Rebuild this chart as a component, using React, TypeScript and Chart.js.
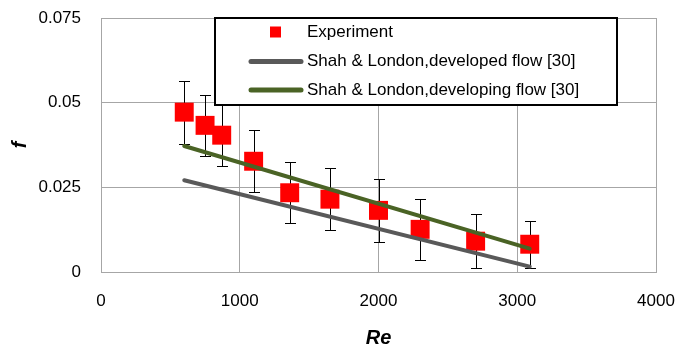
import React, { useEffect, useRef } from 'react';
import { Chart, registerables } from 'chart.js';

Chart.register(...registerables);

// Experimental data
const reExperiment = [600, 750, 870, 1100, 1360, 1650, 2000, 2300, 2700, 3090];
const fExperiment = [0.0472, 0.0433, 0.0404, 0.0327, 0.0234, 0.0215, 0.0182, 0.0126, 0.0091, 0.0082];
const fError = [0.0093, 0.009, 0.009, 0.0091, 0.009, 0.0092, 0.0092, 0.009, 0.008, 0.0069];

// Correlations
const reCorrelation = [600, 3090];
const fDeveloped = [0.0271, 0.0016];
const fDeveloping = [0.0372, 0.0069];

// Axis ticks
const xTicks = [0, 1000, 2000, 3000, 4000];
const yTicks = [0, 0.025, 0.05, 0.075];
const yTickLabels = ['0', '0.025', '0.05', '0.075'];

const legendLabels = [
  'Experiment',
  'Shah & London,developed flow [30]',
  'Shah & London,developing flow [30]',
];

const RED = '#ff0000';
const GRAY = '#595959';
const GREEN = '#4a6325';
const GRID = '#a6a6a6';
const FONT = "'Liberation Sans', Arial, sans-serif";

const errorBarPlugin = {
  id: 'errorBars',
  beforeDatasetsDraw(chart: any) {
    const { ctx, scales } = chart;
    const xs = scales.x;
    const ys = scales.y;
    ctx.save();
    ctx.strokeStyle = '#000000';
    ctx.lineWidth = 1;
    reExperiment.forEach((re, i) => {
      const x = Math.round(xs.getPixelForValue(re)) + 0.5;
      const yTop = Math.round(ys.getPixelForValue(fExperiment[i] + fError[i])) + 0.5;
      const yBot = Math.round(ys.getPixelForValue(fExperiment[i] - fError[i])) + 0.5;
      ctx.beginPath();
      ctx.moveTo(x, yTop);
      ctx.lineTo(x, yBot);
      ctx.moveTo(x - 5.5, yTop);
      ctx.lineTo(x + 5.5, yTop);
      ctx.moveTo(x - 5.5, yBot);
      ctx.lineTo(x + 5.5, yBot);
      ctx.stroke();
    });
    ctx.restore();
  },
};

const legendPlugin = {
  id: 'boxLegend',
  afterDraw(chart: any) {
    const { ctx } = chart;
    ctx.save();
    const bx = 215, by = 18, bw = 402, bh = 87;
    ctx.fillStyle = '#ffffff';
    ctx.fillRect(bx, by, bw, bh);
    ctx.strokeStyle = '#000000';
    ctx.lineWidth = 2;
    ctx.strokeRect(bx, by, bw, bh);
    const rows = [32, 61.5, 90];
    // marker
    ctx.fillStyle = RED;
    ctx.fillRect(270, rows[0] - 5.5, 11, 11);
    // lines
    ctx.lineWidth = 5;
    ctx.lineCap = 'round';
    ctx.strokeStyle = GRAY;
    ctx.beginPath();
    ctx.moveTo(251, rows[1]);
    ctx.lineTo(301, rows[1]);
    ctx.stroke();
    ctx.strokeStyle = GREEN;
    ctx.beginPath();
    ctx.moveTo(251, rows[2]);
    ctx.lineTo(301, rows[2]);
    ctx.stroke();
    ctx.fillStyle = '#000000';
    ctx.font = `17px ${FONT}`;
    ctx.textBaseline = 'middle';
    ctx.textAlign = 'left';
    legendLabels.forEach((t, i) => ctx.fillText(t, 307, rows[i]));
    ctx.restore();
  },
};

export default function App() {
  const ref = useRef<HTMLCanvasElement>(null);
  useEffect(() => {
    if (!ref.current) return;
    const chart = new Chart(ref.current, {
      type: 'scatter',
      data: {
        datasets: [
          {
            label: legendLabels[1],
            data: reCorrelation.map((x, i) => ({ x, y: fDeveloped[i] })),
            showLine: true,
            borderColor: GRAY,
            borderWidth: 4,
            pointRadius: 0,
            borderCapStyle: 'round',
            order: 1,
          },
          {
            label: legendLabels[2],
            data: reCorrelation.map((x, i) => ({ x, y: fDeveloping[i] })),
            showLine: true,
            borderColor: GREEN,
            borderWidth: 4,
            pointRadius: 0,
            borderCapStyle: 'round',
            order: 0,
          },
          {
            label: legendLabels[0],
            data: reExperiment.map((x, i) => ({ x, y: fExperiment[i] })),
            showLine: false,
            pointStyle: 'rect',
            pointRadius: 13.4,
            backgroundColor: RED,
            borderColor: RED,
            borderWidth: 0,
            order: 2,
          },
        ],
      },
      options: {
        responsive: false,
        animation: false,
        layout: { padding: { top: 18, right: 22, left: 0, bottom: 0 } },
        plugins: { legend: { display: false }, tooltip: { enabled: false } },
        scales: {
          x: {
            type: 'linear',
            min: 0,
            max: 4000,
            afterFit: (s: any) => {
              s.height = 79;
              s.paddingLeft = 0;
              s.paddingRight = 0;
            },
            afterBuildTicks: (s: any) => { s.ticks = xTicks.map((v) => ({ value: v })); },
            grid: { color: GRID, drawTicks: false, lineWidth: 1 },
            border: { color: GRID, width: 1 },
            ticks: {
              padding: 19,
              color: '#000000',
              font: { family: FONT, size: 17 },
              maxRotation: 0,
              callback: (v: any) => String(v),
            },
            title: {
              display: true,
              text: 'Re',
              color: '#000000',
              font: { family: FONT, size: 20, weight: 'bold', style: 'italic' },
              padding: { top: 0, bottom: 1 },
            },
          },
          y: {
            type: 'linear',
            min: 0,
            max: 0.075,
            afterFit: (s: any) => {
              s.width = 101;
              s.paddingTop = 0;
              s.paddingBottom = 0;
            },
            afterBuildTicks: (s: any) => { s.ticks = yTicks.map((v) => ({ value: v })); },
            grid: { color: GRID, drawTicks: false, lineWidth: 1 },
            border: { color: GRID, width: 1 },
            ticks: {
              padding: 20,
              color: '#000000',
              font: { family: FONT, size: 17 },
              callback: (v: any) => {
                const idx = yTicks.findIndex((t) => Math.abs(t - v) < 1e-9);
                return idx >= 0 ? yTickLabels[idx] : '';
              },
            },
            title: {
              display: true,
              text: 'f',
              color: '#000000',
              font: { family: FONT, size: 20, weight: 'bold', style: 'italic' },
              padding: { top: 8, bottom: 0 },
            },
          },
        },
      },
      plugins: [errorBarPlugin, legendPlugin],
    } as any);
    return () => chart.destroy();
  }, []);
  return (
    <div style={{ position: 'absolute', left: 0, top: 0, width: 678, height: 351, background: '#ffffff' }}>
      <canvas ref={ref} width={678} height={351} />
    </div>
  );
}
